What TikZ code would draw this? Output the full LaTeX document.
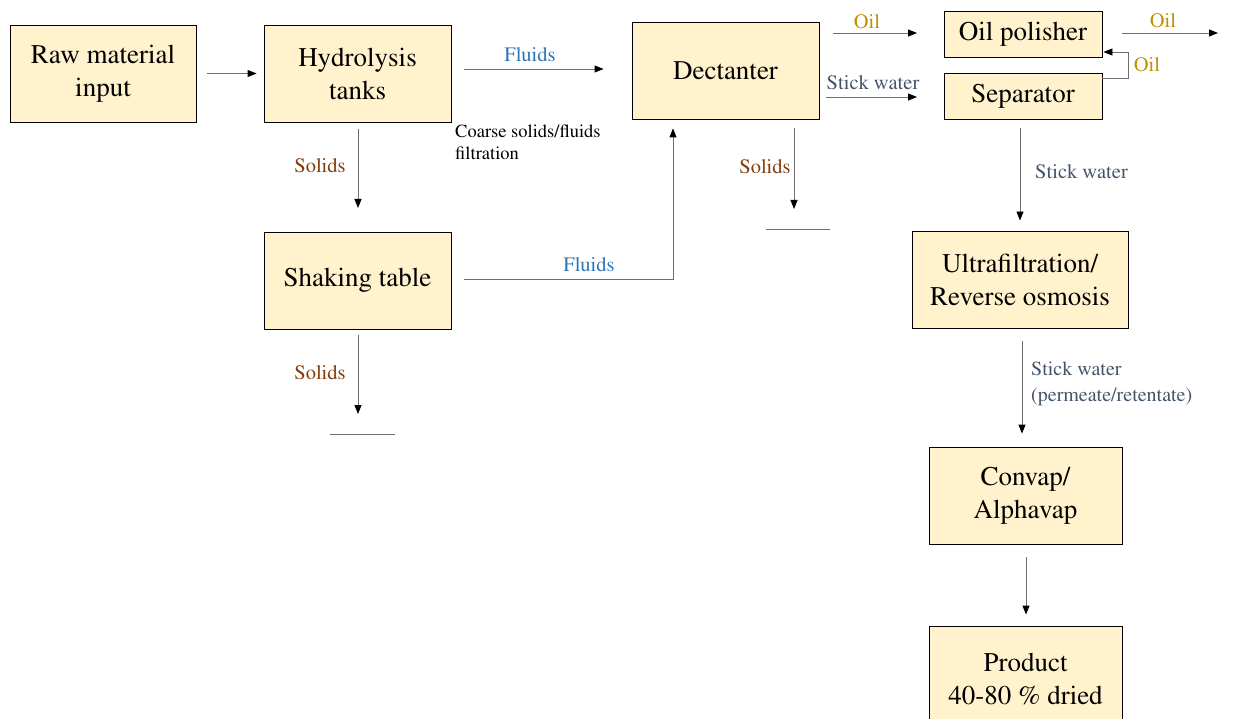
\documentclass[tikz,border=0pt]{standalone}
\usepackage[T1]{fontenc}
\usepackage{mathptmx}
\usetikzlibrary{arrows.meta,calc}
\definecolor{boxfill}{HTML}{FFF2CC}
\definecolor{fluidc}{HTML}{2E75B6}
\definecolor{solidc}{HTML}{843C0C}
\definecolor{oilc}{HTML}{BF9000}
\definecolor{stickc}{HTML}{44546A}
\definecolor{linec}{HTML}{6E6E6E}
\tikzset{
  procbox/.style={draw=black, line width=0.9pt, fill=boxfill, align=center, inner sep=0pt,
    font=\fontsize{27}{33}\selectfont},
  arr/.style={draw=linec, line width=0.9pt, -{Triangle[length=9pt,width=7pt,color=black]}},
  endline/.style={draw=linec, line width=0.9pt},
  lbl/.style={inner sep=0pt, font=\fontsize{20.5}{24}\selectfont},
  note/.style={inner sep=0pt, align=left, font=\fontsize{18.5}{22}\selectfont}
}
\begin{document}
\begin{tikzpicture}[x=1pt,y=-1pt]
\useasboundingbox (0,0) rectangle (1236,719);
% boxes
\node[procbox, minimum width=186pt, minimum height=97pt] (raw) at (103,73.5) {Raw material\\input};
\node[procbox, minimum width=187pt, minimum height=97pt] (hyd) at (357.5,73.5) {Hydrolysis\\tanks};
\node[procbox, minimum width=187pt, minimum height=97pt] (dec) at (725.5,70.5) {Dectanter};
\node[procbox, minimum width=158pt, minimum height=46pt] (oilp) at (1023,34) {Oil polisher};
\node[procbox, minimum width=158pt, minimum height=46pt] (sep) at (1023,96) {Separator};
\node[procbox, minimum width=187pt, minimum height=97pt] (shake) at (357.5,280.5) {Shaking table};
\node[procbox, minimum width=216pt, minimum height=97pt] (uf) at (1020,279.5) {Ultrafiltration/\\Reverse osmosis};
\node[procbox, minimum width=193pt, minimum height=97pt] (conv) at (1025.5,495.5) {Convap/\\Alphavap};
\node[procbox, minimum width=193pt, minimum height=106pt] (prod) at (1025.5,679) {Product\\40-80 \% dried};

% dead-end coordinates
\coordinate (hydend) at (358,208);
\coordinate (shakeend) at (358,414);
\coordinate (decend) at (794,209);
\coordinate (oilin) at (917,33);
\coordinate (oilinstart) at (833,33);
\coordinate (stickin) at (917,97);
\coordinate (stickinstart) at (826,97);
\coordinate (oilout) at (1218,33);

% arrows
\draw[arr] ([xshift=11pt]raw.east) -- ([xshift=-7pt]hyd.west);
\draw[arr] ([xshift=13pt,yshift=4.5pt]hyd.east) -- ([xshift=-28pt,yshift=1.5pt]dec.west);
\draw[arr] ([xshift=0.5pt,yshift=-7pt]hyd.south) -- (hydend);
\draw[arr] ([xshift=13pt,yshift=1.5pt]shake.east) -| ([xshift=-52.5pt,yshift=-9pt]dec.south);
\draw[arr] ([xshift=0.5pt,yshift=-6pt]shake.south) -- (shakeend);
\draw[endline] (330,434) coordinate (sl1) -- (395,434) coordinate (sl2);
\draw[arr] ([xshift=68.5pt,yshift=-9pt]dec.south) -- (decend);
\draw[endline] (766,229) coordinate (dl1) -- (830,229) coordinate (dl2);
\draw[arr] (oilinstart) -- (oilin);
\draw[arr] (stickinstart) -- (stickin);
\draw[arr] ([xshift=20pt,yshift=1pt]oilp.east) -- (oilout);
\draw[arr] ([yshift=18pt]sep.east) -- ++(26,0) |- ([xshift=1pt,yshift=-18pt]oilp.east);
\draw[arr] ([xshift=-3pt,yshift=-9pt]sep.south) -- ([yshift=10pt]uf.north);
\draw[arr] ([xshift=2pt,yshift=-13pt]uf.south) -- ([xshift=-3.5pt,yshift=13pt]conv.north);
\draw[arr] ([xshift=0.5pt,yshift=-13pt]conv.south) -- ([xshift=0.5pt,yshift=11pt]prod.north);

% labels
\node[lbl, text=fluidc] (lf1) at (530,55) {Fluids};
\node[lbl, text=fluidc] (lf2) at (589,265) {Fluids};
\node[lbl, text=solidc] (ls1) at (320,166) {Solids};
\node[lbl, text=solidc] (ls2) at (320,373) {Solids};
\node[lbl, text=solidc] (ls3) at (765,167) {Solids};
\node[lbl, text=oilc] (lo1) at (867,22) {Oil};
\node[lbl, text=oilc] (lo2) at (1163,21) {Oil};
\node[lbl, text=oilc] (lo3) at (1147,65) {Oil};
\node[lbl, text=stickc] (lsw1) at (873,83) {Stick water};
\node[lbl, text=stickc, anchor=west] (lsw2) at (1035,172) {Stick water};
\node[note, text=stickc, anchor=north west, font=\fontsize{20}{26}\selectfont] (lsw3) at (1031,362) {Stick water\\(permeate/retentate)};
\node[note, anchor=north west] (coarse) at (455,125) {Coarse solids/fluids\\filtration};
\end{tikzpicture}
\end{document}
